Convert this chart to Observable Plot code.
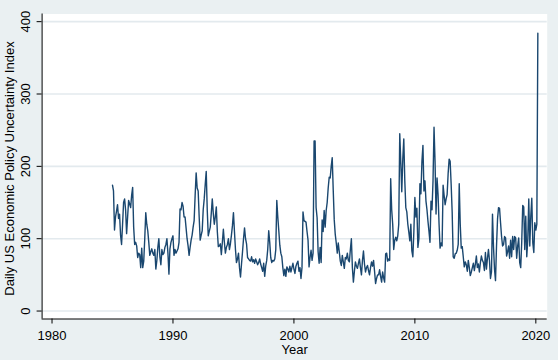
<!DOCTYPE html>
<html><head><meta charset="utf-8">
<script src="https://cdn.jsdelivr.net/npm/d3@7"></script>
<script src="https://cdn.jsdelivr.net/npm/@observablehq/plot@0.6"></script>
<style>
html,body{margin:0;padding:0;background:#eaf0f2;}
#chart{width:558px;height:360px;}
</style></head><body><div id="chart"></div>
<script>
// Monthly averages of the daily US EPU index, starting January 1985
const startYear = 1985;
const epu1985_1989 = [
  174,166,112,130,138,147,128,134,105,92,120,150,
  155,140,107,130,153,148,143,160,171,116,92,95,
  90,74,80,78,60,87,60,69,100,136,120,111,
  95,77,82,86,80,77,85,58,70,88,100,75,
  64,85,78,80,88,92,100,80,51,86,95,100
];
const epu1990_1994 = [
  104,77,85,80,83,86,95,141,140,150,145,130,
  130,115,100,90,77,88,98,105,116,125,160,191,
  170,166,130,98,105,111,140,155,175,193,140,104,
  110,116,135,155,135,120,130,144,110,89,90,93,
  78,95,113,95,80,88,92,100,85,93,105,118
];
const epu1995_1999 = [
  136,110,85,67,72,80,60,47,65,82,100,115,
  100,93,74,72,70,69,75,68,71,66,72,68,
  64,67,72,65,60,55,66,48,62,70,85,111,
  95,74,67,70,69,72,85,153,130,111,91,80,
  75,60,49,58,48,61,58,54,62,54,60,66
];
const epu2000_2004 = [
  58,52,62,66,69,55,60,45,60,137,125,124,
  123,110,98,61,74,84,70,80,235,235,143,129,
  82,66,88,67,126,110,139,116,139,150,170,185,
  184,200,212,167,126,106,94,80,94,82,69,63,
  77,68,59,74,72,80,70,68,85,100,60,40
];
const epu2005_2009 = [
  55,68,62,59,66,72,60,50,70,83,65,54,
  60,63,56,50,60,68,62,70,55,38,45,50,
  50,57,48,40,54,46,40,79,80,69,72,70,
  183,140,120,85,98,102,97,104,120,245,207,165,
  210,238,180,143,137,120,109,97,120,83,75,110
];
const epu2010_2014 = [
  157,130,142,88,100,176,162,207,229,166,180,152,
  140,124,110,95,152,140,180,254,207,134,184,161,
  120,87,94,90,174,160,147,155,161,190,210,207,
  175,137,75,73,79,80,84,92,176,120,87,89,
  75,61,68,64,55,70,60,49,54,60,66,56
];
const epu2015_2020 = [
  65,76,60,65,54,67,76,70,67,56,81,58,
  73,85,70,45,54,134,89,58,42,90,127,143,
  142,122,103,90,92,103,101,76,82,90,73,98,
  75,103,85,103,101,73,90,101,67,60,95,146,
  144,85,131,75,98,155,90,131,156,94,81,122,
  112,120,384
];
const xTicks = [1980, 1990, 2000, 2010, 2020];
const yTicks = [0, 100, 200, 300, 400];
const xTitle = "Year";
const yTitle = "Daily US Economic Policy Uncertainty Index";

const values = [].concat(epu1985_1989, epu1990_1994, epu1995_1999,
  epu2000_2004, epu2005_2009, epu2010_2014, epu2015_2020);
const data = values.map((v, i) => ({t: startYear + i / 12, v}));

const xDomain = [1979.18, 2020.94];
const yDomain = [-11, 410.6];
const font = "'Liberation Sans', Arial, Helvetica, sans-serif";
const fs = 13;

const chart = Plot.plot({
  width: 558,
  height: 360,
  marginLeft: 41.6,
  marginRight: 11.3,
  marginTop: 13.5,
  marginBottom: 41.5,
  style: {background: "#eaf0f2", fontFamily: font, fontSize: fs + "px", color: "#000"},
  x: {domain: xDomain, axis: null},
  y: {domain: yDomain, axis: null},
  marks: [
    Plot.frame({fill: "white", stroke: null}),
    Plot.ruleY(yTicks, {stroke: "#e3eaee", strokeWidth: 1.6}),
    Plot.lineY(data, {x: "t", y: "v", stroke: "#1a476f", strokeWidth: 1.4}),
    Plot.ruleX([xDomain[0]], {stroke: "#000", strokeWidth: 1}),
    Plot.ruleY([yDomain[0]], {stroke: "#000", strokeWidth: 1}),
    Plot.axisX({ticks: xTicks, tickFormat: "d", tickSize: 5, tickPadding: 6.5, label: null, fontSize: fs}),
    Plot.axisY({ticks: yTicks, tickSize: 5, tickFormat: () => "", label: null}),
    Plot.text(yTicks, {y: d => d, text: d => String(d), frameAnchor: "left", textAnchor: "middle", dx: -16.5, rotate: -90, fontSize: fs}),
    Plot.text([xTitle], {text: d => d, frameAnchor: "bottom", textAnchor: "middle", dy: 34.5, fontSize: fs}),
    Plot.text([yTitle], {text: d => d, frameAnchor: "left", textAnchor: "middle", dx: -32, dy: 2, rotate: -90, fontSize: fs})
  ]
});
document.getElementById("chart").appendChild(chart);
</script>
</body></html>
